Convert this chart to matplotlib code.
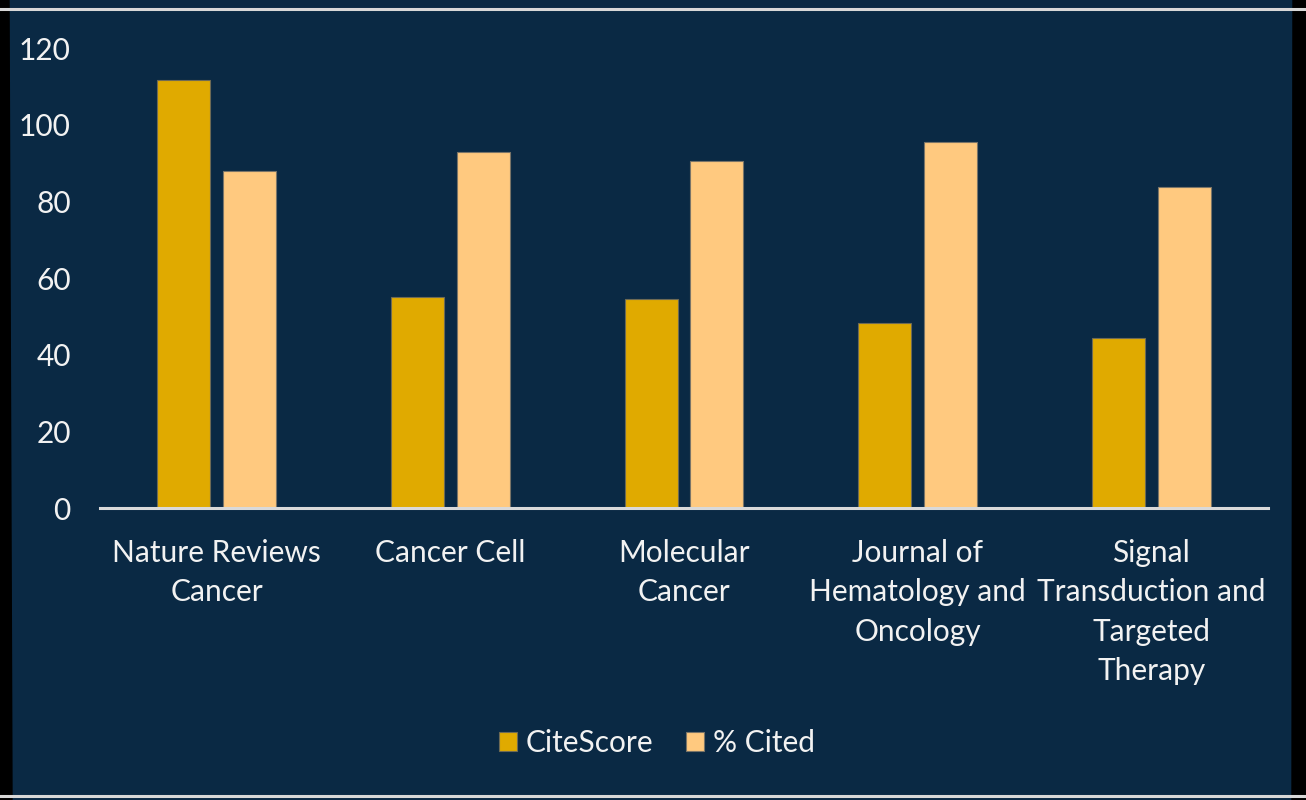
import matplotlib.pyplot as plt
import numpy as np
from matplotlib.lines import Line2D
from matplotlib.patches import Polygon

# Journals and values
journals = ["Nature Reviews\nCancer", "Cancer Cell", "Molecular\nCancer",
            "Journal of\nHematology and\nOncology",
            "Signal\nTransduction and\nTargeted\nTherapy"]
cite_score = [111.6, 55.0, 54.4, 48.2, 44.4]
pct_cited = [87.8, 92.8, 90.5, 95.6, 83.7]

bg = "#0a2944"
txt = "#f2f2f2"
plt.rcParams['font.family'] = ['Lato', 'DejaVu Sans']
fs = 21.5

fig = plt.figure(figsize=(13.06, 8), dpi=100, facecolor=bg)
ax = fig.add_axes([100/1306, 1 - 508/800, 1168/1306, 460/800])
ax.set_facecolor(bg)

x = np.arange(len(journals))
w = 0.227
ax.bar(x - 0.141, cite_score, w, color="#e0aa00", edgecolor="#6e6a55", linewidth=0.8, label="CiteScore")
ax.bar(x + 0.141, pct_cited, w, color="#ffc97f", edgecolor="#7a7468", linewidth=0.8, label="% Cited")

ax.set_xlim(-0.5, 4.5)
ax.set_ylim(0, 120)
ax.set_yticks(range(0, 121, 20))
ax.set_xticks(x)
ax.set_xticklabels(journals, linespacing=1.5)

for s in ["top", "right", "left"]:
    ax.spines[s].set_visible(False)
ax.spines["bottom"].set_color("#d9d9d9")
ax.spines["bottom"].set_linewidth(2.2)
ax.tick_params(axis="both", length=0, labelsize=fs, colors=txt)
ax.tick_params(axis="y", pad=21)
ax.tick_params(axis="x", pad=22)

leg = ax.legend(loc="center", bbox_to_anchor=(657/1306, 1 - 743/800),
                bbox_transform=fig.transFigure, ncol=2, frameon=False,
                fontsize=fs, labelcolor=txt, handlelength=0.6, handleheight=0.6,
                handletextpad=0.3, columnspacing=1.1)

# screenshot frame: black side strips and light lines top/bottom
fig.add_artist(Polygon([[0, 0], [12/1306, 0], [9/1306, 1], [0, 1]],
                       closed=True, transform=fig.transFigure, color="black"))
fig.add_artist(Polygon([[1, 0], [1 - 14/1306, 0], [1 - 13/1306, 1], [1, 1]],
                       closed=True, transform=fig.transFigure, color="black"))
fig.add_artist(Line2D([0, 1], [1 - 8.5/800, 1 - 8.5/800], transform=fig.transFigure,
                      color="#d8d8d8", linewidth=2.2))
fig.add_artist(Line2D([0, 1], [1 - 796/800, 1 - 796/800], transform=fig.transFigure,
                      color="#d8d8d8", linewidth=2.2))

fig.savefig("out.png", dpi=100, facecolor=bg)
